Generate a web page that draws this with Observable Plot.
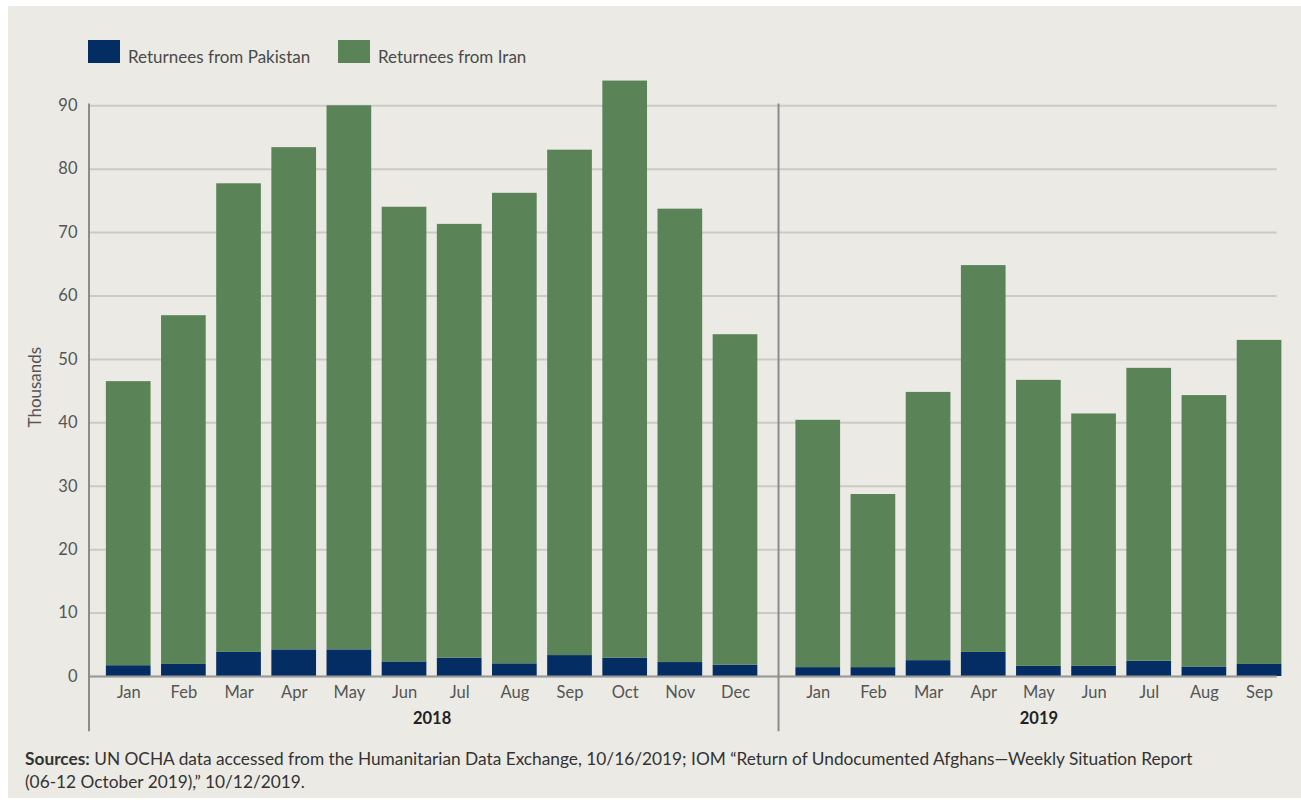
<!DOCTYPE html>
<html>
<head>
<meta charset="utf-8">
<script src="https://cdn.jsdelivr.net/npm/d3@7"></script>
<script src="https://cdn.jsdelivr.net/npm/@observablehq/plot@0.6"></script>
<style>
  html, body { margin: 0; padding: 0; background: #ffffff; }
  #page { position: relative; width: 1301px; height: 804px; overflow: hidden; font-family: Lato, "Open Sans", sans-serif; }
  #panel { position: absolute; left: 8px; top: 6px; width: 1293px; height: 792px; background: #ebeae4; }
  #chart { position: absolute; left: 0; top: 0; }
  .sw { position: absolute; width: 32px; height: 23px; }
  .lg { position: absolute; font-size: 17px; color: #4a4a4a; line-height: 20px; white-space: nowrap; }
  #caption { position: absolute; left: 25px; top: 747px; font-size: 17.3px; line-height: 23px; color: #333; white-space: nowrap; }
</style>
</head>
<body>
<div id="page">
  <div id="panel"></div>
  <div id="chart"></div>
  <div class="sw" style="left:88px; top:40px; background:#032d63;"></div>
  <div class="lg" id="lg0" style="left:128px; top:47px;"></div>
  <div class="sw" style="left:338px; top:40px; background:#5a8458;"></div>
  <div class="lg" id="lg1" style="left:378px; top:47px;"></div>
  <div id="caption"><b>Sources:</b> UN OCHA data accessed from the Humanitarian Data Exchange, 10/16/2019; IOM “Return of Undocumented Afghans—Weekly Situation Report<br>(06-12 October 2019),” 10/12/2019.</div>
</div>
<script>
// ---- data (thousands of returnees) ----
const seriesNames = ["Returnees from Pakistan", "Returnees from Iran"];
const years = ["2018", "2019"];
const months2018 = ["Jan", "Feb", "Mar", "Apr", "May", "Jun", "Jul", "Aug", "Sep", "Oct", "Nov", "Dec"];
const months2019 = ["Jan", "Feb", "Mar", "Apr", "May", "Jun", "Jul", "Aug", "Sep"];
const pakistan2018 = [1.7, 1.9, 3.8, 4.2, 4.2, 2.3, 2.9, 2.0, 3.3, 2.9, 2.2, 1.8];
const iran2018 = [44.8, 55.0, 73.9, 79.2, 85.8, 71.7, 68.4, 74.2, 79.7, 91.0, 71.5, 52.1];
const pakistan2019 = [1.4, 1.4, 2.5, 3.8, 1.6, 1.6, 2.4, 1.5, 1.9];
const iran2019 = [39.0, 27.3, 42.3, 61.0, 45.1, 39.8, 46.2, 42.8, 51.1];
const yTicks = [0, 10, 20, 30, 40, 50, 60, 70, 80, 90];

document.getElementById("lg0").textContent = seriesNames[0];
document.getElementById("lg1").textContent = seriesNames[1];

// ---- layout helpers ----
const yearGap = 0.5;      // extra slot space between the two years
const halfBar = 0.405;    // half bar width, in slot units
const groups = [
  {year: years[0], months: months2018, pak: pakistan2018, iran: iran2018},
  {year: years[1], months: months2019, pak: pakistan2019, iran: iran2019}
];
const rows = [], monthRows = [], yearRows = [];
let offset = 0;
groups.forEach((g) => {
  const start = offset;
  g.months.forEach((m, i) => {
    const pos = offset + i;
    rows.push({pos, month: m, series: seriesNames[0], value: g.pak[i]});
    rows.push({pos, month: m, series: seriesNames[1], value: g.iran[i]});
    monthRows.push({pos, month: m});
  });
  yearRows.push({pos: start + (g.months.length - 1) / 2, year: g.year});
  offset += g.months.length + yearGap;
});
const xMin = -0.72, xMax = offset - yearGap - 1 + 0.32;
const sepPositions = [xMin, months2018.length - 1 + (1 + yearGap) / 2 + 0.03];

const chart = Plot.plot({
  width: 1301,
  height: 745,
  marginLeft: 88.5,
  marginRight: 24.3,
  marginTop: 105.3,
  marginBottom: 69,
  style: {background: "transparent", fontFamily: "Lato, 'Open Sans', sans-serif", overflow: "visible"},
  x: {type: "linear", domain: [xMin, xMax], axis: null},
  y: {domain: [0, 90], axis: null},
  color: {domain: seriesNames, range: ["#032d63", "#5a8458"]},
  marks: [
    Plot.gridY(yTicks, {stroke: "#cbcac3", strokeOpacity: 1, strokeWidth: 2}),
    Plot.axisY(yTicks, {tickSize: 0, tickPadding: 11.5, fontSize: 16.5, fill: "#555", label: null}),
    Plot.rectY(rows, {x1: d => d.pos - halfBar, x2: d => d.pos + halfBar, y: "value", fill: "series"}),
    Plot.ruleY([0], {stroke: "#9a9a9a", strokeWidth: 2}),
    Plot.ruleX(sepPositions, {y1: -8.7, y2: 90.3, stroke: "#8c8c8c", strokeWidth: 2}),
    Plot.text(monthRows, {x: "pos", text: "month", frameAnchor: "bottom", dy: 21, fontSize: 16.5, fill: "#555"}),
    Plot.text(yearRows, {x: "pos", text: "year", frameAnchor: "bottom", dy: 47, fontSize: 16.5, fontWeight: "bold", fill: "#222"}),
    Plot.text(["Thousands"], {frameAnchor: "left", textAnchor: "middle", rotate: -90, dx: -53.5, dy: -4, fontSize: 17, fill: "#555"})
  ]
});
document.getElementById("chart").appendChild(chart);
</script>
</body>
</html>
